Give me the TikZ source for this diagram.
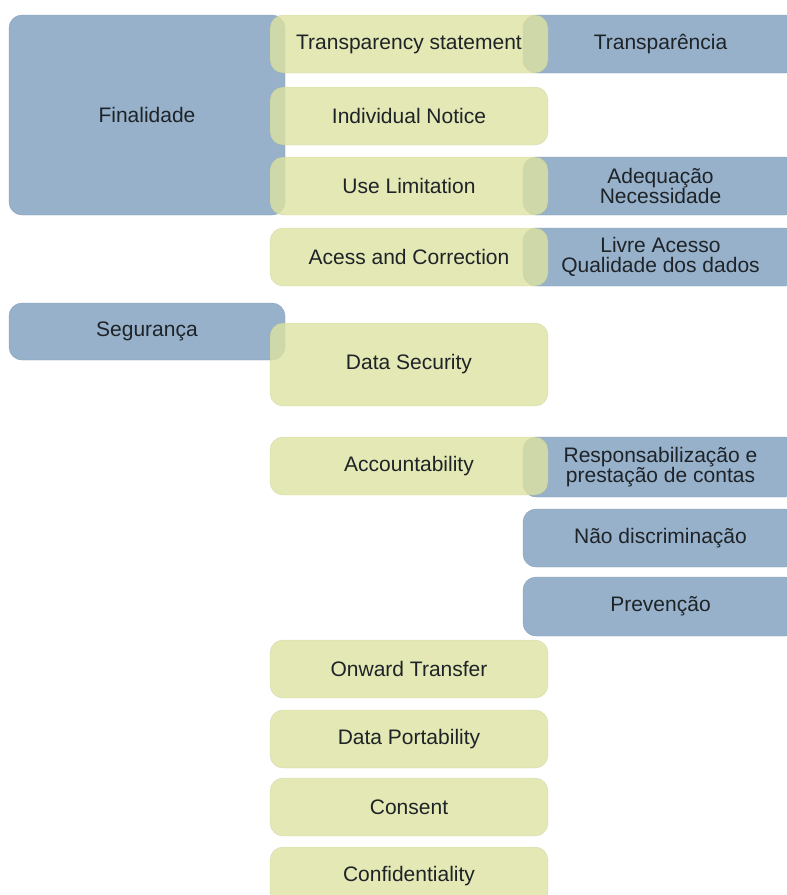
\documentclass[tikz,border=0pt]{standalone}
\usepackage{fontspec}
\setmainfont{Liberation Sans}
\usetikzlibrary{positioning}
\definecolor{pblue}{HTML}{97B1CA}
\definecolor{pgreen}{HTML}{DDE2A1}
\definecolor{ptext}{HTML}{1E2328}

\begin{document}
\begin{tikzpicture}[x=1pt, y=-1pt,
  font=\fontsize{21}{19.5}\selectfont, text=ptext,
  every node/.style={rounded corners=13pt, inner sep=2pt, outer sep=0pt, align=center},
  bluebox/.style={fill=pblue, draw=pblue!90!black, line width=0.4pt},
  greenbox/.style={fill=pgreen, fill opacity=0.8, text opacity=1, draw=pgreen!80!black,
    draw opacity=0.4, line width=0.4pt, minimum width=278pt, minimum height=58pt},
  sidebox/.style={bluebox, minimum width=275pt, minimum height=58pt}]
  \clip (0,0) rectangle (787,895);

  % left column
  \node[bluebox, anchor=north west, minimum width=276pt, minimum height=200pt] (fin) at (9,15) {Finalidade};
  \node[bluebox, anchor=north west, minimum width=276pt, minimum height=57pt] (seg) at (9,303) {Segurança};

  % right column (under the green boxes)
  \node[sidebox, anchor=north west] (transp) at (523,15) {Transparência};
  \node[sidebox, anchor=north west] (adeq) at (523,157) {Adequação\\Necessidade};
  \node[sidebox, anchor=north west] (livre) at (523,228) {Livre Acesso\\Qualidade dos dados};
  \node[sidebox, anchor=north west, minimum height=60pt] (resp) at (523,437) {Responsabilização e\\prestação de contas};
  \node[sidebox, below=12pt of resp] (naodisc) {Não discriminação};
  \node[sidebox, below=10pt of naodisc, minimum height=59pt] (prev) {Prevenção};

  % middle column
  \node[greenbox, anchor=north west] (ts) at (270,15) {Transparency statement};
  \node[greenbox, below=14pt of ts] (notice) {Individual Notice};
  \node[greenbox, below=12pt of notice] (uselim) {Use Limitation};
  \node[greenbox, below=13pt of uselim] (access) {Acess and Correction};
  \node[greenbox, below=37pt of access, minimum height=83pt] (datasec) {Data Security};
  \node[greenbox, below=31pt of datasec] (acc) {Accountability};
  \node[greenbox, below=145pt of acc] (onward) {Onward Transfer};
  \node[greenbox, below=12pt of onward] (port) {Data Portability};
  \node[greenbox, below=10pt of port] (consent) {Consent};
  \node[greenbox, below=11pt of consent] (conf) {Confidentiality};
\end{tikzpicture}
\end{document}
